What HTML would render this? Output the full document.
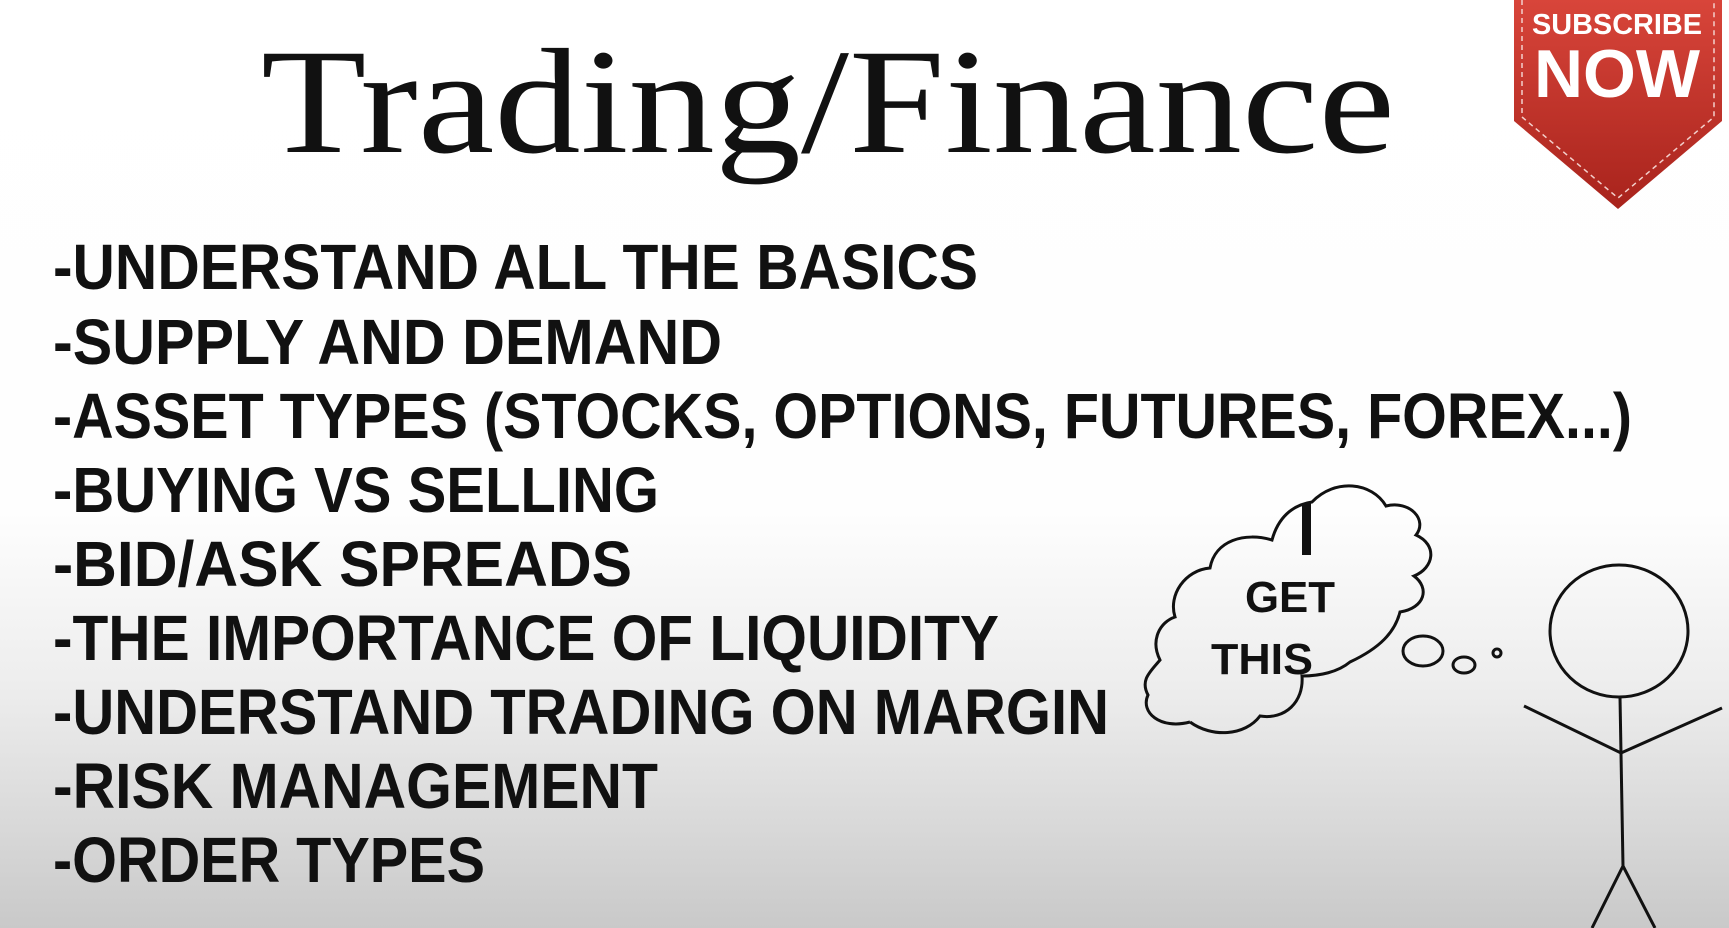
<!DOCTYPE html>
<html><head><meta charset="utf-8"><style>
html,body{margin:0;padding:0;width:1729px;height:928px;overflow:hidden}
svg{display:block}
</style></head><body>
<svg width="1729" height="928" viewBox="0 0 1729 928">
<defs>
<linearGradient id="bg" x1="0" y1="0" x2="0" y2="1">
<stop offset="0" stop-color="#ffffff"/><stop offset="0.55" stop-color="#fefefe"/><stop offset="0.75" stop-color="#ececec"/><stop offset="1" stop-color="#c9c9c9"/>
</linearGradient>
<linearGradient id="red" x1="0" y1="0" x2="0" y2="1">
<stop offset="0" stop-color="#d8453a"/><stop offset="1" stop-color="#a8231c"/>
</linearGradient>
</defs>
<rect width="1729" height="928" fill="url(#bg)"/>
<text x="261" y="152" font-family="Liberation Serif, serif" font-size="150" textLength="1134" lengthAdjust="spacingAndGlyphs" fill="#111">Trading/Finance</text>

<g>
<path d="M1514 0 H1722 V121 L1618 209 L1514 121 Z" fill="url(#red)"/>
<path d="M1522 0 V117 L1618 198 L1714 117 V0" fill="none" stroke="#f3d0cc" stroke-width="1.5" stroke-dasharray="5 4"/>
<text x="1617" y="34" text-anchor="middle" font-family="Liberation Sans, sans-serif" font-weight="bold" font-size="29" textLength="170" lengthAdjust="spacingAndGlyphs" fill="#fff">SUBSCRIBE</text>
<text x="1617" y="97" text-anchor="middle" font-family="Liberation Sans, sans-serif" font-weight="bold" font-size="68" textLength="166" lengthAdjust="spacingAndGlyphs" fill="#fff">NOW</text>
</g>

<g font-family="Liberation Sans, sans-serif" font-weight="bold" font-size="64" fill="#111">
<text x="53" y="289" textLength="925" lengthAdjust="spacingAndGlyphs">-UNDERSTAND ALL THE BASICS</text>
<text x="53" y="364" textLength="669" lengthAdjust="spacingAndGlyphs">-SUPPLY AND DEMAND</text>
<text x="53" y="438" textLength="1579" lengthAdjust="spacingAndGlyphs">-ASSET TYPES (STOCKS, OPTIONS, FUTURES, FOREX...)</text>
<text x="53" y="512" textLength="606" lengthAdjust="spacingAndGlyphs">-BUYING VS SELLING</text>
<text x="53" y="586" textLength="579" lengthAdjust="spacingAndGlyphs">-BID/ASK SPREADS</text>
<text x="53" y="660" textLength="946" lengthAdjust="spacingAndGlyphs">-THE IMPORTANCE OF LIQUIDITY</text>
<text x="53" y="734" textLength="1056" lengthAdjust="spacingAndGlyphs">-UNDERSTAND TRADING ON MARGIN</text>
<text x="53" y="808" textLength="605" lengthAdjust="spacingAndGlyphs">-RISK MANAGEMENT</text>
<text x="53" y="882" textLength="432" lengthAdjust="spacingAndGlyphs">-ORDER TYPES</text>
</g>

<g fill="none" stroke="#111" stroke-width="3">
<path d="M1190 722 C1160 730 1140 712 1148 695 C1140 680 1150 672 1160 660 C1150 640 1160 622 1175 617 C1168 595 1185 570 1210 568 C1215 540 1245 532 1272 540 C1278 518 1292 505 1312 502 C1335 478 1372 482 1386 506 C1410 500 1428 520 1416 535 C1438 545 1434 568 1414 576 C1430 588 1425 608 1400 612 C1395 632 1380 648 1350 662 C1338 672 1320 676 1302 676 C1304 702 1285 720 1260 716 C1245 736 1212 738 1190 722"/>
<ellipse cx="1423" cy="651" rx="20" ry="15"/>
<ellipse cx="1464" cy="665" rx="11" ry="8"/>
<circle cx="1497" cy="653" r="4"/>
</g>
<g font-family="Liberation Sans, sans-serif" font-weight="bold" fill="#111" text-anchor="middle">
<rect x="1302" y="503" width="9" height="52" fill="#111"/>
<text x="1290" y="612" font-size="44" textLength="90" lengthAdjust="spacingAndGlyphs">GET</text>
<text x="1262" y="674" font-size="44" textLength="102" lengthAdjust="spacingAndGlyphs">THIS</text>
</g>

<g fill="none" stroke="#111" stroke-width="3">
<ellipse cx="1619" cy="631" rx="69" ry="66"/>
<path d="M1620 697 L1623 866"/>
<path d="M1524 706 L1621 753 L1722 708"/>
<path d="M1623 866 L1592 928 M1623 866 L1655 928"/>
</g>
</svg>
</body></html>
